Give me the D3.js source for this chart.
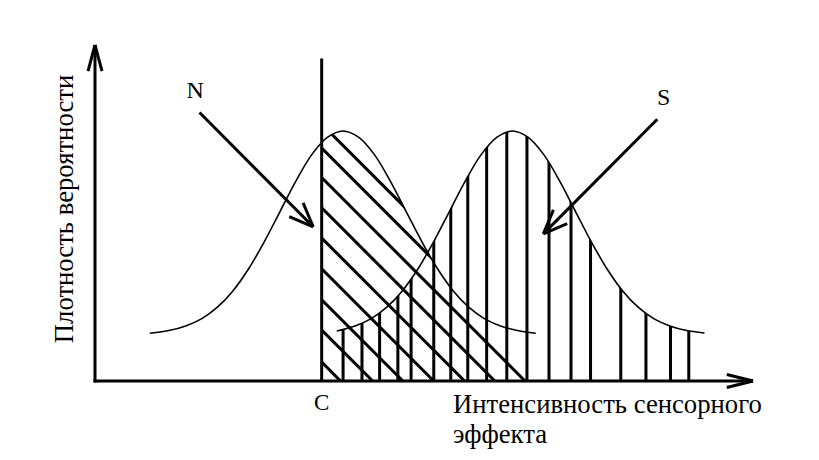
<!DOCTYPE html>
<html>
<head>
<meta charset="utf-8">
<script src="https://cdn.jsdelivr.net/npm/d3@7"></script>
<style>
  html, body { margin: 0; padding: 0; background: #fff; }
  svg { display: block; }
  text { font-family: "Liberation Serif", "Times New Roman", serif; fill: #000; }
</style>
</head>
<body>
<svg id="chart" width="819" height="460"></svg>
<script>
// ---------------- data ----------------
// Noise distribution (N): density curve samples
const noiseX = [0.87, 1.19, 1.44, 1.69, 1.94, 2.19, 2.44, 2.69, 2.94, 3.19, 3.44, 3.69, 3.94,
                4.19, 4.44, 4.69, 4.94, 5.19, 5.44, 5.69, 5.94, 6.19, 6.44, 6.69, 7.00];
const noiseY = [0.142, 0.151, 0.164, 0.185, 0.219, 0.268, 0.334, 0.415, 0.505, 0.595, 0.673, 0.725, 0.744,
                0.725, 0.673, 0.595, 0.505, 0.415, 0.334, 0.268, 0.219, 0.185, 0.164, 0.151, 0.142];
// Signal + noise distribution (S): density curve samples
const signalX = [3.84, 4.13, 4.38, 4.63, 4.88, 5.13, 5.38, 5.63, 5.88, 6.13, 6.38, 6.63,
                 6.88, 7.13, 7.38, 7.63, 7.88, 8.13, 8.38, 8.63, 8.88, 9.13, 9.38, 9.68];
const signalY = [0.149, 0.164, 0.185, 0.219, 0.268, 0.334, 0.415, 0.505, 0.595, 0.673, 0.725, 0.744,
                 0.725, 0.673, 0.595, 0.505, 0.415, 0.334, 0.268, 0.219, 0.185, 0.164, 0.151, 0.143];
// Decision criterion C
const criterion = 3.6;
const criterionTop = 0.96;
// Vertical hatching under S (x positions)
const signalHatchX = [3.94, 4.24, 4.52, 4.81, 5.02, 5.38, 5.65, 5.92, 6.22, 6.54, 6.86, 7.21,
                      7.56, 7.87, 8.35, 8.75, 9.14, 9.43];
// Diagonal hatching under N to the right of C (where each line meets the x axis)
const noiseHatchX = [3.90, 4.41, 4.89, 5.38, 5.87, 6.35, 6.83, 7.30, 7.68];
// Axis extents
const axisMaxX = 10.45;
const axisMaxY = 1.0;
// Labels and pointer arrows
const curveLabels = ["N", "S"];
const arrowFromX = [1.66, 8.93];
const arrowFromY = [0.799, 0.779];
const arrowToX = [3.465, 7.12];
const arrowToY = [0.459, 0.438];
const labelX = [1.59, 9.03];
const labelY = [0.842, 0.82];
const criterionLabel = "C";
const xTitle = ["Интенсивность сенсорного", "эффекта"];
const yTitle = "Плотность вероятности";

// ---------------- layout ----------------
const svg = d3.select("#chart");
const x = d3.scaleLinear().domain([0, axisMaxX]).range([95, 753]);
const y = d3.scaleLinear().domain([0, axisMaxY]).range([381, 45]);
const black = "#000";

const noise = noiseX.map((v, i) => ({x: v, y: noiseY[i]}));
const signal = signalX.map((v, i) => ({x: v, y: signalY[i]}));

const curve = d3.curveCatmullRom.alpha(0.5);
const line = d3.line().x(d => x(d.x)).y(d => y(d.y)).curve(curve);
const area = d3.area().x(d => x(d.x)).y0(y(0)).y1(d => y(d.y)).curve(curve);

const defs = svg.append("defs");
defs.append("clipPath").attr("id", "clipN").append("path").attr("d", area(noise));
defs.append("clipPath").attr("id", "clipC").append("rect")
  .attr("x", x(criterion)).attr("y", 0).attr("width", 819).attr("height", y(0));
defs.append("clipPath").attr("id", "clipS").append("path").attr("d", area(signal));

// Vertical hatching (S)
svg.append("g").attr("clip-path", "url(#clipS)")
  .selectAll("line").data(signalHatchX).join("line")
  .attr("x1", d => x(d)).attr("x2", d => x(d))
  .attr("y1", y(0)).attr("y2", y(axisMaxY))
  .attr("stroke", black).attr("stroke-width", 3);

// Diagonal hatching (N, right of C): each stroke runs from C down-right
// until it first leaves the region under N (or reaches the axis)
const noisePx = d3.scaleLinear().domain(noiseX.map(x)).range(noiseY.map(y)).clamp(true);
const noiseRightPx = x(noiseX[noiseX.length - 1]);
function diagSegment(d) {
  const xi = x(d), yAxis = y(0), xc = x(criterion);
  const lineY = px => yAxis - (xi - px);
  let inside = false, endX = xi;
  for (let px = xc; px <= xi; px += 0.5) {
    const below = px <= noiseRightPx && lineY(px) >= noisePx(px);
    if (below) inside = true;
    else if (inside) { endX = px + 3; break; }
  }
  return {x1: xc - 2, y1: lineY(xc - 2), x2: endX, y2: lineY(endX)};
}
svg.append("g").attr("clip-path", "url(#clipC)")
  .append("g").attr("clip-path", "url(#clipN)")
  .selectAll("line").data(noiseHatchX.map(diagSegment)).join("line")
  .attr("x1", d => d.x1).attr("y1", d => d.y1)
  .attr("x2", d => d.x2).attr("y2", d => d.y2)
  .attr("stroke", black).attr("stroke-width", 3);

// Curves
svg.append("path").attr("d", line(noise)).attr("fill", "none")
  .attr("stroke", black).attr("stroke-width", 1.6);
svg.append("path").attr("d", line(signal)).attr("fill", "none")
  .attr("stroke", black).attr("stroke-width", 1.6);

// Criterion line
svg.append("line")
  .attr("x1", x(criterion)).attr("x2", x(criterion))
  .attr("y1", y(0)).attr("y2", y(criterionTop))
  .attr("stroke", black).attr("stroke-width", 3);

// Arrow helper (open V head)
function arrow(g, x1, y1, x2, y2, len, angDeg, sw) {
  g.append("line").attr("x1", x1).attr("y1", y1).attr("x2", x2).attr("y2", y2)
    .attr("stroke", black).attr("stroke-width", sw).attr("stroke-linecap", "butt");
  const a = Math.atan2(y1 - y2, x1 - x2);
  const t = angDeg * Math.PI / 180;
  [a + t, a - t].forEach(b => {
    g.append("line").attr("x1", x2).attr("y1", y2)
      .attr("x2", x2 + len * Math.cos(b)).attr("y2", y2 + len * Math.sin(b))
      .attr("stroke", black).attr("stroke-width", sw).attr("stroke-linecap", "butt");
  });
}

// Axes
const axes = svg.append("g");
arrow(axes, x(0) - 1.5, y(0), x(axisMaxX), y(0), 27, 14, 3);
arrow(axes, x(0), y(0) + 1.5, x(0), y(axisMaxY), 27, 15, 3);

// Pointer arrows
const ptr = svg.append("g");
curveLabels.forEach((lab, i) => {
  arrow(ptr, x(arrowFromX[i]), y(arrowFromY[i]), x(arrowToX[i]), y(arrowToY[i]), 26, 22, 3);
  svg.append("text").attr("x", x(labelX[i])).attr("y", y(labelY[i]))
    .attr("text-anchor", "middle").attr("font-size", 24).text(lab);
});

// Criterion label
svg.append("text").attr("x", x(criterion)).attr("y", y(0) + 29)
  .attr("text-anchor", "middle").attr("font-size", 23).text(criterionLabel);

// X title
const xt = svg.append("text").attr("x", 453).attr("y", 413).attr("font-size", 26.7);
xTitle.forEach((t, i) => xt.append("tspan").attr("x", 453).attr("dy", i ? 30 : 0).text(t));

// Y title
svg.append("text")
  .attr("transform", "translate(73,209) rotate(-90)")
  .attr("text-anchor", "middle").attr("font-size", 26.7).text(yTitle);
</script>
</body>
</html>
